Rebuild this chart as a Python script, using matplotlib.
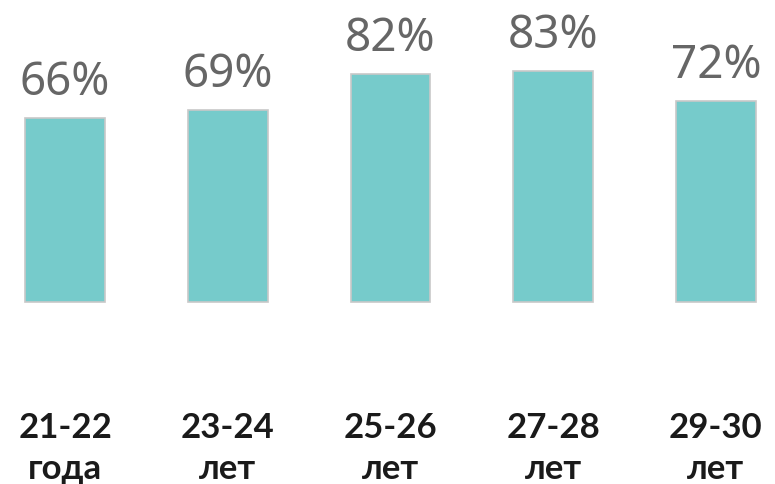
import numpy as np
import matplotlib.pyplot as plt

# age groups and share (%)
ranges = ['21-22', '23-24', '25-26', '27-28', '29-30']
units = ['года', 'лет', 'лет', 'лет', 'лет']
values = [66, 69, 82, 83, 72]

fig = plt.figure(figsize=(7.75, 4.85), dpi=100)
ax = fig.add_axes([0, 0, 1, 1])
ax.axis('off')

x = np.arange(len(values))
ax.bar(x, values, width=0.49, color='#76CBCB', edgecolor='#C8C8C8', linewidth=1.2)

ax.set_xlim(-0.4, 4.363)
ax.set_ylim(-65.35, 108.8)

for xi, v in zip(x, values):
    ax.annotate('{}%'.format(v), (xi, v), xytext=(0, 24), textcoords='offset pixels',
                ha='center', va='baseline', fontsize=33, color='#666666',
                family='Noto Sans')

# two-line category labels under the bars
for xi, r, u in zip(x, ranges, units):
    ax.text(xi, -48.5, r, ha='center', va='baseline', fontsize=25, fontweight='bold',
            color='#1a1a1a', family='Lato')
    ax.text(xi, -63.2, u, ha='center', va='baseline', fontsize=25, fontweight='bold',
            color='#1a1a1a', family='Lato')

fig.savefig('out.png', dpi=100)
